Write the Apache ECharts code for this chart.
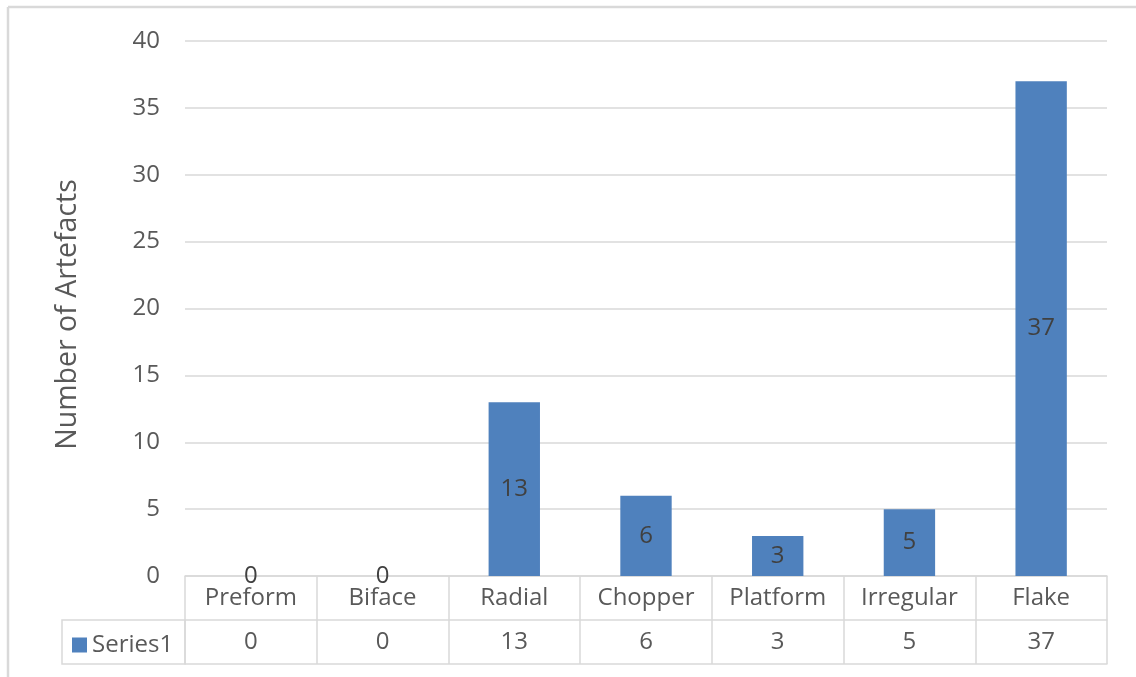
<!DOCTYPE html>
<html>
<head>
<meta charset="utf-8">
<script src="https://cdn.jsdelivr.net/npm/echarts@6/dist/echarts.min.js"></script>
<style>
  html, body { margin: 0; padding: 0; background: #ffffff; }
  #chart { width: 1136px; height: 677px; }
</style>
</head>
<body>
<div id="chart"></div>
<script>
// Artefact counts by type
const categories = ['Preform', 'Biface', 'Radial', 'Chopper', 'Platform', 'Irregular', 'Flake'];
const series1 = [0, 0, 13, 6, 3, 5, 37];
const yTicks = [0, 5, 10, 15, 20, 25, 30, 35, 40];
const seriesName = 'Series1';

const FONT = '"Open Sans", "Noto Sans", sans-serif';
const TEXT = '#595959';
const LINE = '#d9d9d9';
const BAR = '#4f81bd';

const gridLeft = 185, gridRight = 29, gridTop = 41, gridBottom = 101;
const rowH = 44;
const W = 1136, H = 677;
const axisY = H - gridBottom;

const chart = echarts.init(document.getElementById('chart'), null, { renderer: 'canvas' });

chart.setOption({
  animation: false,
  backgroundColor: '#ffffff',
  textStyle: { fontFamily: FONT },
  grid: { left: gridLeft, right: gridRight, top: gridTop, bottom: gridBottom, containLabel: false },
  legend: {
    data: [seriesName],
    left: 67, top: axisY + rowH + 8,
    icon: 'rect', itemWidth: 15, itemHeight: 15, itemGap: 6,
    textStyle: { color: TEXT, fontSize: 24, fontFamily: FONT }
  },
  xAxis: [
    {
      type: 'category', data: categories, position: 'bottom',
      axisLine: { show: true, lineStyle: { color: LINE, width: 1.5 } },
      axisTick: { show: true, length: rowH * 2, inside: false, lineStyle: { color: LINE, width: 1.5 } },
      axisLabel: { color: TEXT, fontSize: 24, fontFamily: FONT, margin: 10 }
    },
    {
      type: 'category', data: series1.map(String), position: 'bottom', offset: rowH,
      axisLine: { show: true, lineStyle: { color: LINE, width: 1.5 } },
      axisTick: { show: false },
      axisLabel: { color: TEXT, fontSize: 24, fontFamily: FONT, margin: 10 }
    },
    {
      type: 'category', data: categories, position: 'bottom', offset: rowH * 2,
      axisLine: { show: true, lineStyle: { color: LINE, width: 1.5 } },
      axisTick: { show: false },
      axisLabel: { show: false }
    }
  ],
  yAxis: {
    type: 'value', min: yTicks[0], max: yTicks[yTicks.length - 1], interval: 5,
    name: 'Number of Artefacts', nameLocation: 'middle', nameGap: 103, nameRotate: 90,
    nameTextStyle: { color: TEXT, fontSize: 28.5, fontFamily: FONT, padding: [0, 0, 0, -12] },
    axisLine: { show: false }, axisTick: { show: false },
    axisLabel: { color: TEXT, fontSize: 24, fontFamily: FONT, margin: 25 },
    splitLine: { lineStyle: { color: LINE, width: 1.5 } }
  },
  series: [{
    name: seriesName, type: 'bar', data: series1, xAxisIndex: 0,
    barWidth: '39%',
    itemStyle: { color: BAR },
    label: { show: true, position: 'inside', color: '#404040', fontSize: 24, fontFamily: FONT }
  }],
  graphic: [
    // outer chart frame (top and left edges visible)
    { type: 'line', shape: { x1: 8, y1: 7, x2: W, y2: 7 }, style: { stroke: '#d9d9d9', lineWidth: 2.5 } },
    { type: 'line', shape: { x1: 8, y1: 7, x2: 8, y2: H }, style: { stroke: '#d9d9d9', lineWidth: 2.5 } },
    // data table: series header cell
    { type: 'rect', shape: { x: 62, y: axisY + rowH, width: gridLeft - 62, height: rowH },
      style: { fill: 'none', stroke: LINE, lineWidth: 1.5 } }
  ]
});
</script>
</body>
</html>
